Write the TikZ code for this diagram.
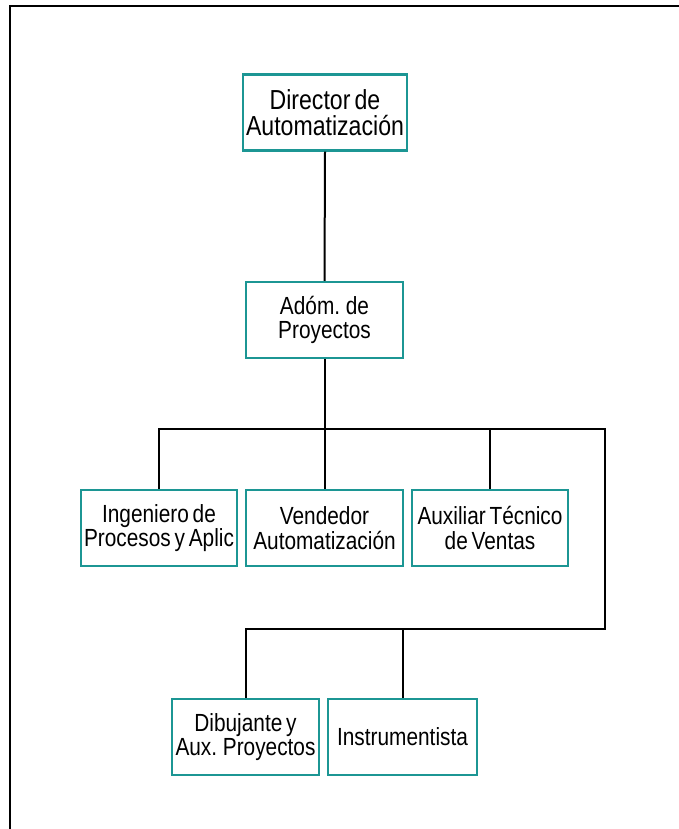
\documentclass[tikz,border=0pt]{standalone}
\usepackage{fontspec}
\setmainfont{Liberation Sans}[FakeStretch=0.84,WordSpace=0.65]
\definecolor{boxteal}{RGB}{28,150,148}
\begin{document}
\begin{tikzpicture}[x=1pt,y=-1pt,
  orgbox/.style={draw=boxteal,line width=2.2pt,fill=white,rectangle,
    minimum height=76pt,inner sep=0pt,align=center,
    font=\fontsize{24.8}{24.6}\selectfont},
  topbox/.style={orgbox,font=\fontsize{27.5}{26}\selectfont},
  link/.style={line width=2pt,black}]
\useasboundingbox (0,0) rectangle (679,829);
% outer frame (top and left edges)
\draw[line width=2.2pt] (10,829) -- (10,6) -- (679,6);
% boxes
\node[topbox,minimum width=164pt] (dir) at (325,112.5) {Director de\\Automatización};
\node[orgbox,minimum width=157pt] (adm) at (324.5,320) {Adóm. de\\Proyectos};
\node[orgbox,minimum width=156pt] (ing) at (159,528) {Ingeniero de\\Procesos y Aplic};
\node[orgbox,minimum width=157pt] (ven) at (324.5,528) {Vendedor\\Automatización};
\node[orgbox,minimum width=156pt] (aux) at (490,528) {Auxiliar Técnico\\de Ventas};
\node[orgbox,minimum width=147pt] (dib) at (245.5,737) {Dibujante y\\Aux. Proyectos};
\node[orgbox,minimum width=149pt] (ins) at (402.5,737) {Instrumentista};
% bus coordinates
\coordinate (b1) at (605,429);
\coordinate (b2) at (605,629);
% connectors
\draw[link] (dir.south) -- (adm.north);
\draw[link] (adm.south) -- (adm.south |- b1);
\draw[link] (ing.north) |- (b1) -- (b2) -| (dib.north);
\draw[link] (ven.north) -- (ven.north |- b1);
\draw[link] (aux.north) -- (aux.north |- b1);
\draw[link] (ins.north) -- (ins.north |- b2);
\end{tikzpicture}
\end{document}
